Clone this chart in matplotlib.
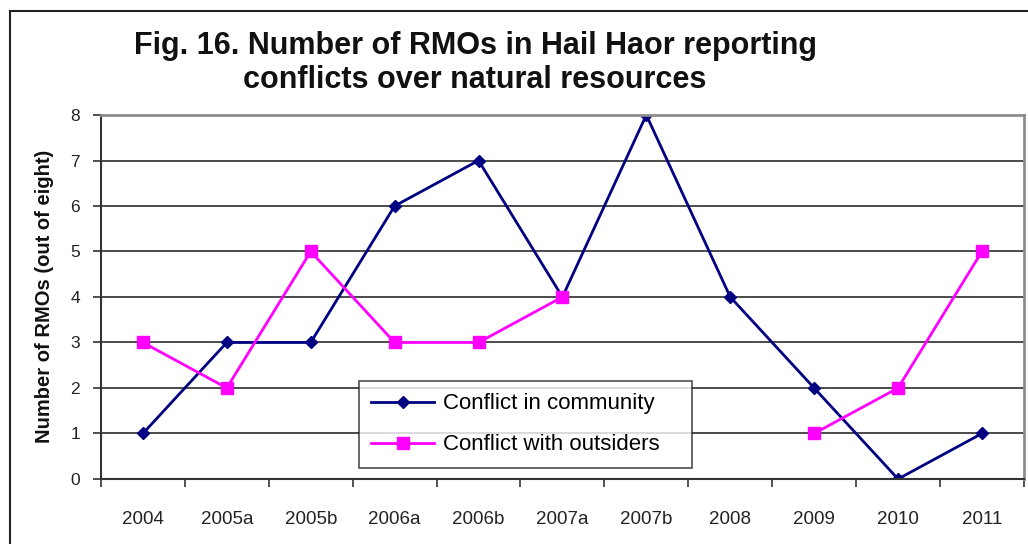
import matplotlib.pyplot as plt
import numpy as np

periods = ["2004", "2005a", "2005b", "2006a", "2006b", "2007a",
           "2007b", "2008", "2009", "2010", "2011"]
in_community = [1, 3, 3, 6, 7, 4, 8, 4, 2, 0, 1]
with_outsiders = [3, 2, 5, 3, 3, 4, np.nan, np.nan, 1, 2, 5]

plt.rcParams['font.family'] = ['Liberation Sans', 'DejaVu Sans']

fig = plt.figure(figsize=(10.28, 5.44), dpi=100)
ax = fig.add_axes([0.0982, 0.1195, 0.8978, 0.6691])

x = np.arange(len(periods))
ax.plot(x, in_community, color='#000080', lw=2, marker='D', ms=6,
        label='Conflict in community')
ax.plot(x, with_outsiders, color='#FF00FF', lw=2, marker='s', ms=9,
        label='Conflict with outsiders')

ax.set_xlim(-0.5, len(periods) - 0.5)
ax.set_ylim(0, 8)
ax.set_yticks(range(0, 9))
ax.yaxis.grid(True, color='#1a1a1a', lw=1.1)
ax.set_axisbelow(True)

# category labels sit between the boundary tick marks
ax.set_xticks(np.arange(-0.5, len(periods), 1))
ax.set_xticklabels([])
ax.set_xticks(x, minor=True)
ax.set_xticklabels(periods, minor=True, fontsize=13.5, color='#222222')
ax.tick_params(axis='x', which='major', length=6, width=1.2, direction='out', color='#333333')
ax.tick_params(axis='x', which='minor', length=0, pad=23)
ax.tick_params(axis='y', length=6, width=1.2, direction='out', pad=9,
               labelsize=12.5, labelcolor='#222222', color='#333333')

for side in ['top', 'right']:
    ax.spines[side].set_color('#8c8c8c')
    ax.spines[side].set_linewidth(2)
for side in ['left', 'bottom']:
    ax.spines[side].set_color('#333333')
    ax.spines[side].set_linewidth(1.5)

leg = ax.legend(loc='upper left', bbox_to_anchor=(0.2795, 0.03, 0.361, 0.239),
                mode='expand', fontsize=16, frameon=True, fancybox=False,
                borderpad=0.55, labelspacing=0.9, handlelength=2.85,
                handletextpad=0.4, borderaxespad=0)
leg.get_frame().set_edgecolor('#222222')
leg.get_frame().set_linewidth(1.2)

fig.text(45 / 1028, 1 - 296 / 544, 'Number of RMOs (out of eight)', rotation=90,
         ha='center', va='center', fontsize=14.5, fontweight='bold', color='#111111')

fig.text(475 / 1028, 1 - 63 / 544,
         'Fig. 16. Number of RMOs in Hail Haor reporting\nconflicts over natural resources',
         ha='center', va='center', fontsize=22, fontweight='bold',
         linespacing=1.2, color='#111111')

# chart border
fig.add_artist(plt.Rectangle((10 / 1028, -0.1), 1.2, 1 - 11 / 544 + 0.1,
                             transform=fig.transFigure, fill=False,
                             edgecolor='#222222', lw=1.5))

fig.savefig('out.png', dpi=100)
